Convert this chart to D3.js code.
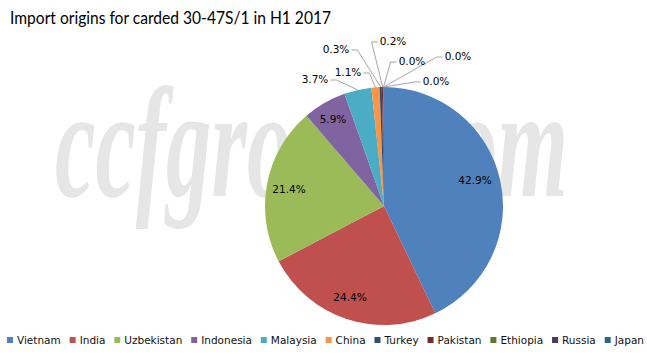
<!DOCTYPE html>
<html>
<head>
<meta charset="utf-8">
<script src="https://cdnjs.cloudflare.com/ajax/libs/d3/7.8.5/d3.min.js"></script>
<style>
  body { margin: 0; background: #fff; }
</style>
</head>
<body>
<div id="chart"></div>
<script>
const categories = ["Vietnam", "India", "Uzbekistan", "Indonesia", "Malaysia", "China", "Turkey", "Pakistan", "Ethiopia", "Russia", "Japan"];
const shares = [42.9, 24.4, 21.4, 5.9, 3.7, 1.1, 0.3, 0.2, 0.03, 0.03, 0.03];
const colors = ["#4F81BD", "#C0504D", "#9BBB59", "#8064A2", "#4BACC6", "#F79646", "#2C4D75", "#772C2A", "#5F7530", "#4D3B62", "#276A7C"];

// label placement relative to the pie centre (px), and whether it sits outside with a leader
const labelOffsets = [[91, -26], [-34, 91], [-95, -17], [-51, -87], [-69, -127], [-36, -134], [-48, -157], [9, -165], [28, -145], [74, -150], [52, -125]];
const outside = [false, false, false, false, true, true, true, true, true, true, true];

let width = 647, height = 358,
    cx = 384, cy = 206, radius = 119;

let svg = d3.select("#chart")
    .append("svg")
    .attr("width", width)
    .attr("height", height);

svg.append("rect").attr("width", width).attr("height", height).attr("fill", "#fff");

// watermark
svg.append("text")
    .attr("x", 55)
    .attr("y", 196)
    .attr("textLength", 513)
    .attr("lengthAdjust", "spacingAndGlyphs")
    .style("font-family", "Liberation Serif")
    .style("font-style", "italic")
    .style("font-weight", "bold")
    .style("font-size", "156px")
    .attr("fill", "#e6e6e6")
    .text("ccfgroup.com");

svg.append("text")
    .attr("x", 10)
    .attr("y", 24)
    .attr("textLength", 321)
    .attr("lengthAdjust", "spacingAndGlyphs")
    .style("font-family", "Lato")
    .style("font-size", "16.5px")
    .attr("fill", "#000")
    .text("Import origins for carded 30-47S/1 in H1 2017");

let data = categories.map(function (c, i) { return { name: c, value: shares[i], i: i }; });

let pie = d3.pie()
    .sort(null)
    .value(function (d) { return d.value; });

let arc = d3.arc().innerRadius(0).outerRadius(radius);

let arcs = pie(data);

let g = svg.append("g").attr("transform", "translate(" + cx + "," + cy + ")");

g.selectAll("path")
    .data(arcs)
    .enter()
    .append("path")
    .attr("d", arc)
    .attr("fill", function (d) { return colors[d.data.i]; });

let labels = g.selectAll("text.lbl")
    .data(arcs)
    .enter()
    .append("text")
    .attr("class", "lbl")
    .attr("x", function (d) { return labelOffsets[d.data.i][0]; })
    .attr("y", function (d) { return labelOffsets[d.data.i][1] + 4; })
    .attr("text-anchor", "middle")
    .style("font-family", "DejaVu Sans")
    .style("font-size", "10.5px")
    .attr("fill", "#000")
    .text(function (d) { return d.data.value.toFixed(1) + "%"; });

// leader lines for the small slices
labels.each(function (d) {
    let i = d.data.i;
    if (!outside[i]) return;
    let w = this.getComputedTextLength();
    let a = (d.startAngle + d.endAngle) / 2;
    let sx = Math.sin(a) * radius, sy = -Math.cos(a) * radius;
    let lx = labelOffsets[i][0], ly = labelOffsets[i][1];
    let edge = lx < 0 ? lx + w / 2 + 2 : lx - w / 2 - 2;
    let elbow = lx < 0 ? edge + 6 : edge - 6;
    g.insert("polyline", "text.lbl")
        .attr("points", [[sx, sy], [elbow, ly + 1], [edge, ly + 1]].map(function (p) { return p.join(","); }).join(" "))
        .attr("fill", "none")
        .attr("stroke", "#a6a6a6")
        .attr("stroke-width", 1);
});

// legend
let legend = svg.append("g");
let items = legend.selectAll("g")
    .data(categories)
    .enter()
    .append("g");

items.append("rect")
    .attr("width", 6)
    .attr("height", 6)
    .attr("y", 337)
    .attr("fill", function (d, i) { return colors[i]; });

items.append("text")
    .attr("y", 344)
    .style("font-family", "DejaVu Sans")
    .style("font-size", "10.5px")
    .attr("fill", "#111")
    .text(function (d) { return d; });

let widths = [];
items.select("text").each(function () { widths.push(this.getComputedTextLength()); });
let left = 7, right = 644, boxGap = 4;
let natural = d3.sum(widths) + categories.length * (6 + boxGap);
let gap = (right - left - natural) / (categories.length - 1);
let xPos = left;
items.each(function (d, i) {
    d3.select(this).select("rect").attr("x", xPos);
    d3.select(this).select("text").attr("x", xPos + 6 + boxGap);
    xPos += 6 + boxGap + widths[i] + gap;
});
</script>
</body>
</html>
